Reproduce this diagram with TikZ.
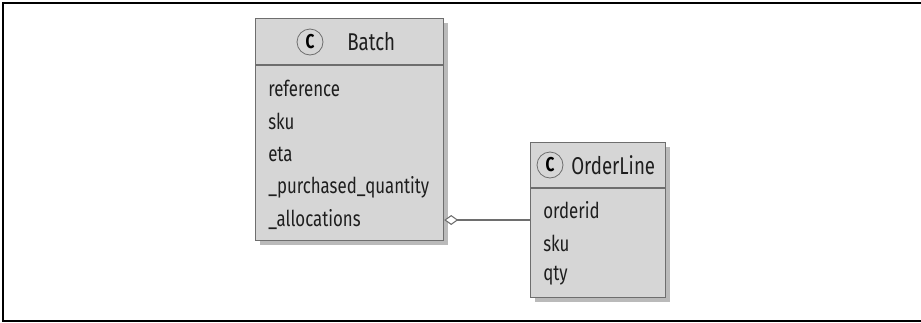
\documentclass[tikz,border=0pt]{standalone}
\usepackage{fontspec}
\setmainfont{Fira Sans}[FakeStretch=0.77]
\usetikzlibrary{arrows.meta,shadows}
\definecolor{boxfill}{HTML}{D6D6D6}
\definecolor{boxline}{HTML}{6E6E6E}
\definecolor{txt}{HTML}{1E1E1E}
\tikzset{
  classbox/.style={draw=boxline, line width=0.9pt, fill=boxfill, anchor=north west, inner sep=0pt,
     drop shadow={shadow xshift=3pt, shadow yshift=-3pt, fill=black!45, opacity=0.6}},
  member/.style={anchor=west, inner sep=0pt, text=txt, font=\fontsize{16.4}{18}\selectfont},
  title/.style={anchor=west, inner sep=0pt, text=txt, font=\fontsize{18.2}{20}\selectfont},
  cbadge/.style={circle, draw=boxline, line width=0.6pt, minimum size=19.5pt, inner sep=0pt, text=black, font=\bfseries\fontsize{15}{17}\selectfont},
  divider/.style={draw=boxline, line width=0.9pt},
  assoc/.style={draw=boxline, line width=0.8pt, {Diamond[open, fill=white, length=10.5pt, width=7.5pt]}-},
}
\begin{document}
\begin{tikzpicture}[x=0.75pt, y=-0.75pt]
\useasboundingbox (0,0) rectangle (921,322);
% frame
\draw[line width=1.5pt, line cap=rect] (921,3) -- (3,3) -- (3,321) -- (921,321);

% Batch class
\node[classbox, minimum width=141pt, minimum height=166.5pt] (batch) at (255,18) {};
\draw[divider] ([yshift=-35.25pt]batch.north west) coordinate (bdl) -- (bdl -| batch.east);
\node[cbadge] (bc) at (310,42) {C};
\node[title] (bt) at (347,42) {Batch};
\node[member] (b1) at (268,88) {reference};
\node[member] (b2) at (268,121) {sku};
\node[member] (b3) at (268,154) {eta};
\node[member] (b4) at (268,187) {\_purchased\_quantity};
\node[member] (b5) at (268,220) {\_allocations};

% OrderLine class
\node[classbox, minimum width=101.25pt, minimum height=116.25pt] (ol) at (530,142) {};
\draw[divider] ([yshift=-34.5pt]ol.north west) coordinate (odl) -- (odl -| ol.east);
\node[cbadge] (oc) at (550,165) {C};
\node[title] (ot) at (571,165) {OrderLine};
\node[member] (o1) at (543,210) {orderid};
\node[member] (o2) at (543,243) {sku};
\node[member] (o3) at (543,276) {qty};

% association
\coordinate (as) at (batch.east |- b5);
\coordinate (ae) at (ol.west |- b5);
\draw[assoc] (as) -- (ae);
\end{tikzpicture}
\end{document}
